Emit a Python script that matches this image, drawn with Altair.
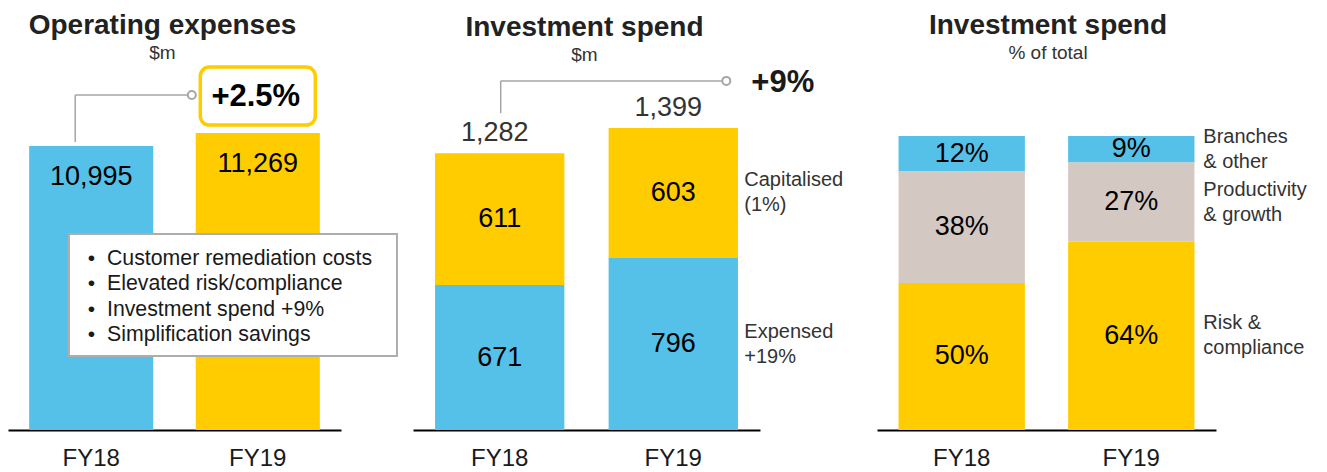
import altair as alt
import pandas as pd

# ---------------- data ----------------
years = ["FY18", "FY19"]

opex = [10995, 11269]
opex_change = "+2.5%"
opex_notes = [
    "Customer remediation costs",
    "Elevated risk/compliance",
    "Investment spend +9%",
    "Simplification savings",
]

inv_series = ["Expensed", "Capitalised"]
inv_expensed = [671, 796]
inv_capitalised = [611, 603]
inv_side_labels = ["Expensed\n+19%", "Capitalised\n(1%)"]
inv_change = "+9%"

mix_series = ["Risk & compliance", "Productivity & growth", "Branches & other"]
mix_risk = [50, 64]
mix_prod = [38, 27]
mix_branch = [12, 9]
mix_side_labels = ["Risk &\ncompliance", "Productivity\n& growth", "Branches\n& other"]

# ---------------- style ----------------
FONT = "Liberation Sans"
BLUE = "#55C1E9"
YELLOW = "#FFCC00"
BEIGE = "#D4C8C3"
GRAY = "#A6A6A6"
TXT = "#1a1a1a"
H = 360
OPEX_BASE = 5000
P3_LEFT = 45
VAL_SIZE = 27

xaxis = alt.Axis(title=None, labelAngle=0, ticks=False, domainColor="#000000",
                 domainWidth=2, labelFontSize=24, labelColor=TXT, labelPadding=16,
                 labelFont=FONT, grid=False)


def make_x(scale):
    def X(field):
        return alt.X(f"{field}:N", scale=scale, axis=xaxis)
    return X


X = make_x(alt.Scale(domain=years, paddingInner=0.255, paddingOuter=0.127))
X3 = make_x(alt.Scale(domain=years, paddingInner=0.255, paddingOuter=0.127,
                      range=[P3_LEFT, P3_LEFT + 339]))


def title(text, sub, dx, offset=2):
    return alt.TitleParams(text=text, subtitle=sub, fontSize=28, fontWeight="bold",
                           font=FONT, color="#222222", subtitleFontSize=19,
                           subtitleFont=FONT, subtitleColor="#333333",
                           subtitlePadding=4, anchor="middle", frame="group",
                           offset=offset, dx=dx)


def side_text(dx):
    return dict(fontSize=20, color="#333333", align="left", baseline="middle",
                lineBreak="\n", lineHeight=25, dx=dx, dy=-12.5, font=FONT)


# ---------------- panel 1: operating expenses ----------------
df1 = pd.DataFrame({"year": years, "value": opex,
                    "label": [f"{v:,}" for v in opex]})
y1 = alt.Scale(domain=[OPEX_BASE, 12600], zero=False, nice=False)
Y1 = alt.Y("value:Q", scale=y1, axis=None)

bars1 = alt.Chart(df1).mark_bar().encode(
    x=X("year"), y=Y1, y2=alt.datum(OPEX_BASE),
    color=alt.Color("year:N", scale=alt.Scale(domain=years, range=[BLUE, YELLOW]), legend=None),
)
lab1 = alt.Chart(df1).mark_text(fontSize=VAL_SIZE, color="#000000", baseline="middle", dy=31, font=FONT).encode(
    x=X("year"), y=Y1, text="label:N")

br1 = pd.DataFrame({"year": [years[0]], "year2": [years[1]],
                    "v_from": [opex[0]], "v_to": [opex[1]], "txt": [opex_change]})
vrule1 = alt.Chart(br1).mark_rule(color=GRAY, strokeWidth=1.5, xOffset=-16, yOffset=-4, y2Offset=-38).encode(
    x=X("year"), y=alt.Y("v_from:Q", scale=y1, axis=None), y2="v_to:Q")
hrule1 = alt.Chart(br1).mark_rule(color=GRAY, strokeWidth=1.5, xOffset=-16, x2Offset=-70, yOffset=-38).encode(
    x=X("year"), x2="year2:N", y=alt.Y("v_to:Q", scale=y1, axis=None))
dot1 = alt.Chart(br1).mark_point(shape="circle", filled=False, size=64, color=GRAY, strokeWidth=2,
                                 opacity=1, xOffset=-66, yOffset=-38).encode(
    x=X("year2"), y=alt.Y("v_to:Q", scale=y1, axis=None))
box1 = alt.Chart(br1).mark_rect(width=115, height=58, cornerRadius=9, fill="white", stroke=YELLOW,
                                strokeWidth=3.5, yOffset=-37).encode(
    x=X("year2"), y=alt.Y("v_to:Q", scale=y1, axis=None))
chg1 = alt.Chart(br1).mark_text(fontSize=31, fontWeight="bold", color="#000000", baseline="middle",
                                dy=-36, dx=-2, font=FONT).encode(
    x=X("year2"), y=alt.Y("v_to:Q", scale=y1, axis=None), text="txt:N")

notes = pd.DataFrame({"year": [years[0]], "value": [opex[0]],
                      "notes": ["\n".join(opex_notes)],
                      "bullets": ["\n".join(["•"] * len(opex_notes))]})
nbox = alt.Chart(notes).mark_rect(width=328, height=122, fill="white", stroke="#ADADAD", strokeWidth=2,
                                  xOffset=141.75, yOffset=149).encode(x=X("year"), y=Y1)
nbul = alt.Chart(notes).mark_text(align="left", baseline="middle", lineBreak="\n", lineHeight=25.3,
                                  fontSize=21, color=TXT, dx=-3.5, dy=113, font=FONT).encode(
    x=X("year"), y=Y1, text="bullets:N")
ntxt = alt.Chart(notes).mark_text(align="left", baseline="middle", lineBreak="\n", lineHeight=25.3,
                                  fontSize=21.3, color=TXT, dx=15.75, dy=113, font=FONT).encode(
    x=X("year"), y=Y1, text="notes:N")

p1 = alt.layer(bars1, lab1, vrule1, hrule1, dot1, box1, chg1, nbox, nbul, ntxt).properties(
    width=333, height=H, title=title("Operating expenses", "$m", -12))


# ---------------- panel 2: investment spend $m ----------------
rows = []
for i, yr in enumerate(years):
    base = 0
    for j, (s, vals) in enumerate(zip(inv_series, [inv_expensed, inv_capitalised])):
        v = vals[i]
        rows.append({"year": yr, "series": s, "value": v, "order": j, "mid": base + v / 2})
        base += v
df2 = pd.DataFrame(rows)
tot2 = [inv_expensed[i] + inv_capitalised[i] for i in range(len(years))]
df2t = pd.DataFrame({"year": years, "total": tot2, "label": [f"{v:,}" for v in tot2]})
y2s = alt.Scale(domain=[0, 1667], nice=False)

bars2 = alt.Chart(df2).mark_bar().encode(
    x=X("year"), y=alt.Y("value:Q", stack="zero", scale=y2s, axis=None),
    color=alt.Color("series:N", scale=alt.Scale(domain=inv_series, range=[BLUE, YELLOW]), legend=None),
    order=alt.Order("order:Q"),
)
lab2 = alt.Chart(df2).mark_text(fontSize=VAL_SIZE, color="#000000", baseline="middle", font=FONT).encode(
    x=X("year"), y=alt.Y("mid:Q", scale=y2s, axis=None), text="value:Q")
totl2 = alt.Chart(df2t).mark_text(fontSize=VAL_SIZE, color="#333333", baseline="middle", dy=-20, dx=-5, font=FONT).encode(
    x=X("year"), y=alt.Y("total:Q", scale=y2s, axis=None), text="label:N")
side2 = df2[df2.year == years[-1]].copy()
side2["side"] = inv_side_labels
sl2 = alt.Chart(side2).mark_text(**side_text(71)).encode(
    x=X("year"), y=alt.Y("mid:Q", scale=y2s, axis=None), text="side:N")

br2 = pd.DataFrame({"year": [years[0]], "year2": [years[1]],
                    "v_from": [tot2[0]], "v_to": [tot2[1]], "txt": [inv_change]})
vrule2 = alt.Chart(br2).mark_rule(color=GRAY, strokeWidth=1.5, xOffset=1, yOffset=-40, y2Offset=-47).encode(
    x=X("year"), y=alt.Y("v_from:Q", scale=y2s, axis=None), y2="v_to:Q")
hrule2 = alt.Chart(br2).mark_rule(color=GRAY, strokeWidth=1.5, xOffset=1, x2Offset=49, yOffset=-47).encode(
    x=X("year"), x2="year2:N", y=alt.Y("v_to:Q", scale=y2s, axis=None))
dot2 = alt.Chart(br2).mark_point(shape="circle", filled=False, size=64, color=GRAY, strokeWidth=2,
                                 opacity=1, xOffset=53, yOffset=-47).encode(
    x=X("year2"), y=alt.Y("v_to:Q", scale=y2s, axis=None))
chg2 = alt.Chart(br2).mark_text(fontSize=31, fontWeight="bold", color="#1a1a1a", align="left",
                                baseline="middle", dx=78, dy=-45, font=FONT).encode(
    x=X("year2"), y=alt.Y("v_to:Q", scale=y2s, axis=None), text="txt:N")

p2 = alt.layer(bars2, lab2, totl2, sl2, vrule2, hrule2, dot2, chg2).properties(
    width=347, height=H, title=title("Investment spend", "$m", -2))


# ---------------- panel 3: investment spend % ----------------
rows = []
for i, yr in enumerate(years):
    base = 0
    for j, (s, vals) in enumerate(zip(mix_series, [mix_risk, mix_prod, mix_branch])):
        v = vals[i]
        rows.append({"year": yr, "series": s, "value": v, "order": j, "mid": base + v / 2,
                     "label": f"{v}%"})
        base += v
df3 = pd.DataFrame(rows)
y3s = alt.Scale(domain=[0, 122.4], nice=False)

bars3 = alt.Chart(df3).mark_bar().encode(
    x=X3("year"), y=alt.Y("value:Q", stack="zero", scale=y3s, axis=None),
    color=alt.Color("series:N", scale=alt.Scale(domain=mix_series, range=[YELLOW, BEIGE, BLUE]), legend=None),
    order=alt.Order("order:Q"),
)
lab3 = alt.Chart(df3).mark_text(fontSize=VAL_SIZE, color="#000000", baseline="middle", font=FONT).encode(
    x=X3("year"), y=alt.Y("mid:Q", scale=y3s, axis=None), text="label:N")
side3 = df3[df3.year == years[-1]].copy()
side3["side"] = mix_side_labels
sl3 = alt.Chart(side3).mark_text(**side_text(72)).encode(
    x=X3("year"), y=alt.Y("mid:Q", scale=y3s, axis=None), text="side:N")

p3 = alt.layer(bars3, lab3, sl3).properties(
    width=P3_LEFT + 339, height=H,
    title=title("Investment spend", "% of total", 1.5 + P3_LEFT / 2, offset=7))


chart = alt.hconcat(p1, p2, p3, spacing=72, bounds="flush").resolve_scale(
    color="independent"
).properties(
    padding={"left": 0, "top": 4, "right": 0, "bottom": 0}
).configure(font=FONT).configure_view(stroke=None)

chart.save("out.html", embed_options={"renderer": "svg", "actions": False})
